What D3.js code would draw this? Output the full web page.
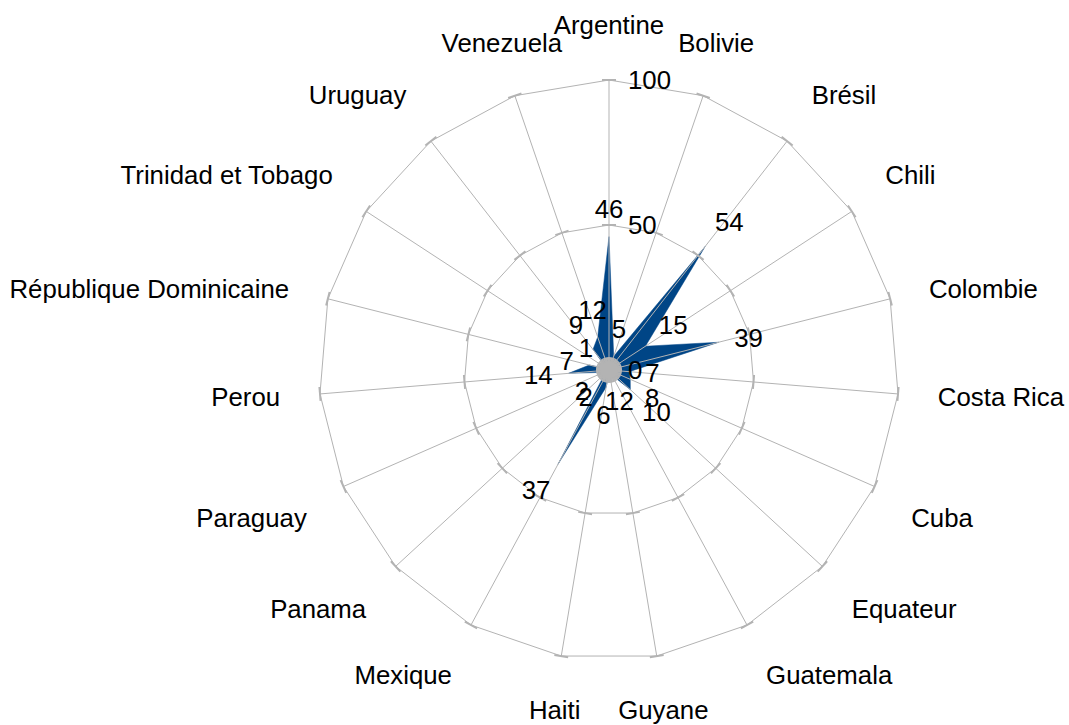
<!DOCTYPE html>
<html>
<head>
<meta charset="utf-8">
<script src="https://cdn.jsdelivr.net/npm/d3@7"></script>
<style>
  html, body { margin: 0; padding: 0; background: #ffffff; }
  svg { display: block; }
  text { font-family: "Liberation Sans", Arial, sans-serif; fill: #000; }
</style>
</head>
<body>
<script>
// ---- data ----
const categories = ["Argentine", "Bolivie", "Brésil", "Chili", "Colombie", "Costa Rica", "Cuba",
  "Equateur", "Guatemala", "Guyane", "Haiti", "Mexique", "Panama", "Paraguay", "Perou",
  "République Dominicaine", "Trinidad et Tobago", "Uruguay", "Venezuela"];
const values = [46, 5, 54, 15, 39, 7, 8, 10, 2, 1, 6, 37, 2, 2, 14, 7, 1, 9, 12];
const tickValues = [0, 50, 100];
const gridRings = [50, 100];

// ---- layout ----
const W = 1069, H = 725;
const cx = 609, cy = 370, R = 290;
const fontSize = 25.8;
const grid = "#b3b3b3";
const fillColor = "#004586";

const svg = d3.select("body").append("svg").attr("width", W).attr("height", H);
const g = svg.append("g").attr("transform", `translate(${cx},${cy})`);

const n = categories.length;
const r = d3.scaleLinear().domain([0, 100]).range([0, R]);
const ang = d3.scaleLinear().domain([0, n]).range([0, 2 * Math.PI]);
const dir = i => [Math.sin(ang(i)), -Math.cos(ang(i))];

function placement(i) {
  let deg = (ang(i) * 180 / Math.PI) % 360;
  let h, v;
  if (deg < 22.5 || deg > 337.5 || (deg > 157.5 && deg < 202.5)) h = "middle";
  else h = deg < 180 ? "start" : "end";
  if ((deg > 67.5 && deg < 112.5) || (deg > 247.5 && deg < 292.5)) v = 0;
  else if (deg <= 67.5 || deg >= 292.5) v = -1;
  else v = 1;
  return { h, v };
}

// ---- data area ----
const radial = d3.lineRadial()
  .angle((d, i) => ang(i))
  .radius(d => r(d))
  .curve(d3.curveLinearClosed);
g.append("path").datum(values).attr("d", radial).attr("fill", fillColor).attr("stroke", fillColor).attr("stroke-width", 0.5);

// ---- grid (on top) ----
const gridG = g.append("g").attr("stroke", grid).attr("fill", "none");
gridRings.forEach(t => {
  gridG.append("path").datum(d3.range(n).map(() => t)).attr("d", radial).attr("stroke-width", 1);
});
// spokes
gridG.selectAll("line.spoke").data(d3.range(n)).join("line").attr("class", "spoke")
  .attr("x1", 0).attr("y1", 0)
  .attr("x2", i => dir(i)[0] * r(100)).attr("y2", i => dir(i)[1] * r(100))
  .attr("stroke-width", 1);
// ticks on ring vertices (tangential)
const tickLen = 7;
gridRings.forEach(t => {
  gridG.selectAll(null).data(d3.range(n)).join("line")
    .attr("x1", i => dir(i)[0] * r(t) - dir(i)[1] * tickLen)
    .attr("y1", i => dir(i)[1] * r(t) + dir(i)[0] * tickLen)
    .attr("x2", i => dir(i)[0] * r(t) + dir(i)[1] * tickLen)
    .attr("y2", i => dir(i)[1] * r(t) - dir(i)[0] * tickLen)
    .attr("stroke-width", 2);
});
// center starburst (ticks at value 0)
gridG.selectAll(null).data(d3.range(n)).join("line")
  .attr("x1", i => -dir(i)[1] * 13).attr("y1", i => dir(i)[0] * 13)
  .attr("x2", i => dir(i)[1] * 13).attr("y2", i => -dir(i)[0] * 13)
  .attr("stroke-width", 2.2);
g.append("circle").attr("r", 9).attr("fill", grid);

// ---- value axis labels ----
g.selectAll("text.tick").data(tickValues).join("text").attr("class", "tick")
  .attr("x", 19).attr("y", d => -r(d))
  .attr("dominant-baseline", "central")
  .attr("font-size", fontSize)
  .text(d => d);

// ---- category labels ----
const Rl = 330;
g.selectAll("text.cat").data(categories).join("text").attr("class", "cat")
  .each(function (d, i) {
    const p = placement(i);
    const [dx, dy] = dir(i);
    d3.select(this)
      .attr("x", dx * Rl)
      .attr("y", dy * Rl + p.v * 15)
      .attr("text-anchor", p.h)
      .attr("dominant-baseline", "central")
      .attr("font-size", fontSize)
      .text(d);
  });

// ---- data labels ----
const gap = 16;
g.selectAll("text.val").data(values).join("text").attr("class", "val")
  .each(function (d, i) {
    const p = placement(i);
    const [dx, dy] = dir(i);
    const rr = r(d) + gap;
    d3.select(this)
      .attr("x", dx * rr)
      .attr("y", dy * rr + p.v * 12)
      .attr("text-anchor", p.h)
      .attr("dominant-baseline", "central")
      .attr("font-size", fontSize)
      .text(d);
  });
</script>
</body>
</html>
